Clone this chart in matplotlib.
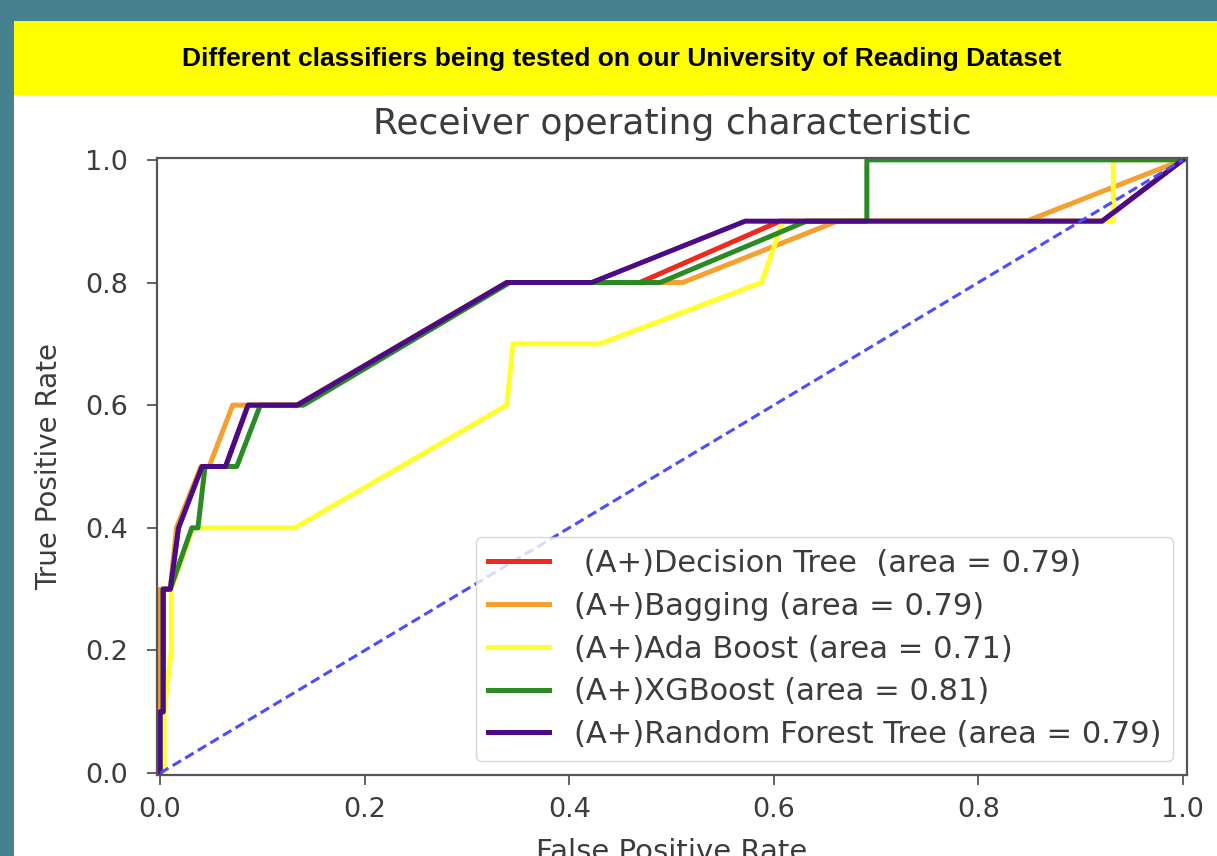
import matplotlib
matplotlib.use("Agg")
import matplotlib.pyplot as plt
from matplotlib.patches import Rectangle

# ROC points
fpr_dt = [0, 0, 0.003, 0.003, 0.01, 0.018, 0.041, 0.064, 0.086, 0.134, 0.339, 0.469, 0.606, 0.921, 1.0]
tpr_dt = [0, 0.1, 0.1, 0.3, 0.3, 0.4, 0.5, 0.5, 0.6, 0.6, 0.8, 0.8, 0.9, 0.9, 1.0]

fpr_bag = [0, 0, 0.01, 0.016, 0.04, 0.048, 0.071, 0.134, 0.339, 0.511, 0.662, 0.847, 1.0]
tpr_bag = [0, 0.3, 0.3, 0.4, 0.5, 0.5, 0.6, 0.6, 0.8, 0.8, 0.9, 0.9, 1.0]

fpr_ada = [0, 0.004, 0.004, 0.011, 0.011, 0.032, 0.132, 0.339, 0.345, 0.43, 0.588, 0.609, 0.932, 0.932, 1.0]
tpr_ada = [0, 0, 0.1, 0.2, 0.3, 0.4, 0.4, 0.6, 0.7, 0.7, 0.8, 0.9, 0.9, 1.0, 1.0]

fpr_xgb = [0, 0, 0.003, 0.003, 0.01, 0.031, 0.037, 0.044, 0.075, 0.098, 0.14, 0.342, 0.489, 0.632, 0.691, 0.691, 1.0]
tpr_xgb = [0, 0.1, 0.1, 0.3, 0.3, 0.4, 0.4, 0.5, 0.5, 0.6, 0.6, 0.8, 0.8, 0.9, 0.9, 1.0, 1.0]

fpr_rf = [0, 0, 0.003, 0.003, 0.01, 0.018, 0.041, 0.064, 0.086, 0.134, 0.339, 0.422, 0.572, 0.921, 1.0]
tpr_rf = [0, 0.1, 0.1, 0.3, 0.3, 0.4, 0.5, 0.5, 0.6, 0.6, 0.8, 0.8, 0.9, 0.9, 1.0]

labels = [' (A+)Decision Tree  (area = 0.79)',
          '(A+)Bagging (area = 0.79)',
          '(A+)Ada Boost (area = 0.71)',
          '(A+)XGBoost (area = 0.81)',
          '(A+)Random Forest Tree (area = 0.79)']
colors = ['#ee2a1e', '#f5a030', '#ffff30', '#2a8a24', '#4b0a86']

banner = 'Different classifiers being tested on our University of Reading Dataset'

fig = plt.figure(figsize=(12.17, 8.56), dpi=100, facecolor='#47818f')
fig.patches.append(Rectangle((14/1217, 0), 1, 1 - 21/856, transform=fig.transFigure,
                             facecolor='white', edgecolor='none', zorder=-3))
fig.patches.append(Rectangle((14/1217, 1 - 95/856), 1, (95 - 21)/856, transform=fig.transFigure,
                             facecolor='#ffff00', edgecolor='none', zorder=-2))
fig.text(622/1217, 1 - 59/856, banner, ha='center', va='center', fontsize=19,
         fontweight='bold', family=['Liberation Sans', 'DejaVu Sans'])

ax = fig.add_axes([157/1217, 1 - 775/856, 1030/1217, 617/856])
ax.set_facecolor('white')
curves = [(fpr_dt, tpr_dt), (fpr_bag, tpr_bag), (fpr_ada, tpr_ada), (fpr_xgb, tpr_xgb), (fpr_rf, tpr_rf)]
for (fx, ty), lab, c in zip(curves, labels, colors):
    ax.plot(fx, ty, color=c, lw=3.6, label=lab)
ax.plot([0, 1], [0, 1], color='#4d4dff', lw=2.2, linestyle=(0, (3.2, 1.6)))

ax.set_xlim(-0.003, 1.004)
ax.set_ylim(-0.003, 1.003)
ax.set_xticks([0, 0.2, 0.4, 0.6, 0.8, 1.0])
ax.set_yticks([0, 0.2, 0.4, 0.6, 0.8, 1.0])
ax.tick_params(labelsize=19.5, length=7, width=1.3, pad=9, colors='#555555', labelcolor='#3c3c3c')
ax.tick_params(axis='y', pad=14)
for s in ax.spines.values():
    s.set_color('#555555')
    s.set_linewidth(1.6)
ax.set_xlabel('False Positive Rate', fontsize=21, color='#3c3c3c', labelpad=11)
ax.set_ylabel('True Positive Rate', fontsize=20, color='#3c3c3c', labelpad=16)
ax.set_title('Receiver operating characteristic', fontsize=26, color='#3c3c3c', pad=17)
leg = ax.legend(loc='lower right', fontsize=22, labelspacing=0.45, handlelength=2.0,
                borderaxespad=0.45, framealpha=0.8)
for t in leg.get_texts():
    t.set_color('#3c3c3c')

fig.savefig('out.png', dpi=100, facecolor=fig.get_facecolor())
